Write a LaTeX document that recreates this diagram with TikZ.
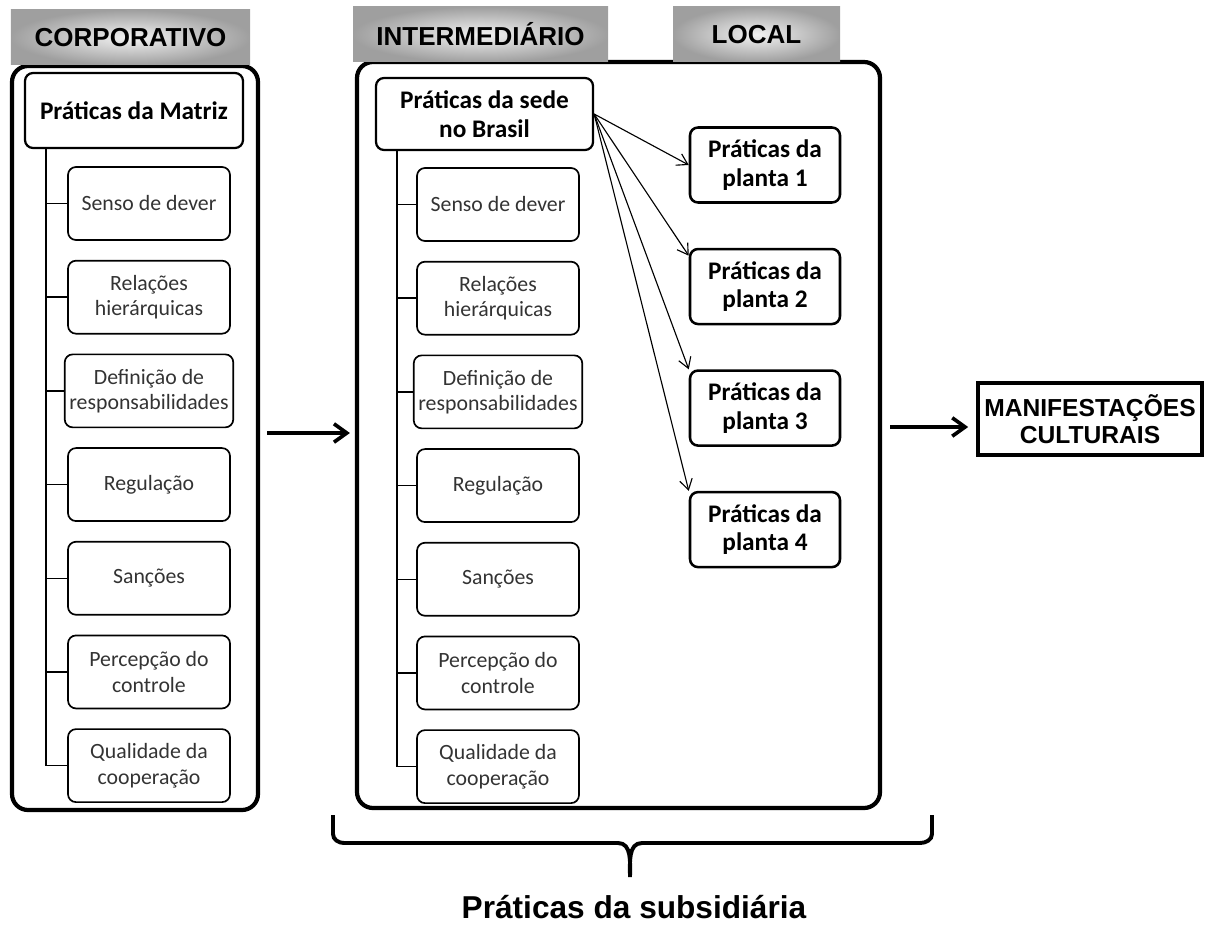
\documentclass[tikz,border=0pt]{standalone}
\usepackage{fontspec}
\usepackage{tikz}
\usetikzlibrary{shapes, arrows.meta, positioning}
\setmainfont{Carlito}
\newfontfamily\arialfont{Liberation Sans}

\begin{document}
\begin{tikzpicture}[node distance=0.475cm, auto]
    % Define styles
    \tikzstyle{level_head} = [rectangle, minimum height=1.375cm, shading=radial, inner color=gray!10, outer color=gray!75, font=\arialfont\fontsize{18.5}{21}\selectfont\bfseries]
    \tikzstyle{frame} = [draw, rectangle, rounded corners=0.4cm, line width=3pt]
    \tikzstyle{head} = [draw, rectangle, rounded corners=0.2cm, line width=1.6pt, fill=white, align=center, font=\fontsize{18}{20.5}\selectfont\bfseries]
    \tikzstyle{sub} = [draw, rectangle, rounded corners=0.2cm, line width=1.2pt, minimum width=4.05cm, minimum height=1.825cm, align=center, text=black!80, font=\fontsize{15.5}{18}\selectfont]
    \tikzstyle{planta} = [draw, rectangle, rounded corners=0.2cm, line width=1.8pt, minimum width=3.75cm, minimum height=1.875cm, align=center, font=\fontsize{18}{20.5}\selectfont\bfseries]
    \tikzstyle{result} = [draw, rectangle, line width=2.6pt, minimum width=5.6cm, minimum height=1.8cm, inner xsep=0pt, align=center, font=\arialfont\fontsize{17.5}{19.5}\selectfont\bfseries]
    \tikzstyle{rail} = [line width=1pt]
    \tikzstyle{planta_arrow} = [-{Straight Barb[length=2.6mm,width=3.2mm]}, line width=0.8pt]
    \tikzstyle{bigarrow} = [-{Straight Barb[length=3.2mm,width=4.6mm]}, line width=2.6pt]

    \useasboundingbox (0,0) rectangle (30.2,-23.325);

    % FRAMES
    \node (corp_frame) [frame, minimum width=6.15cm, minimum height=18.6cm] at (3.375,-10.95) {};
    \node (inter_frame) [frame, minimum width=13.075cm, minimum height=18.65cm] at (15.4625,-10.875) {};

    % LEVEL HEADERS
    \node (corp_head) [level_head, minimum width=5.975cm] at (3.2625,-0.9375) {CORPORATIVO};
    \node (inter_head) [level_head, minimum width=6.375cm] at (12.0125,-0.8625) {INTERMEDIÁRIO};
    \node (local_head) [level_head, minimum width=4.175cm] at (18.9125,-0.8625) {LOCAL};

    % CORPORATIVO
    \node (matriz) [head, minimum width=5.45cm, minimum height=1.875cm] at (3.35,-2.7625) {Práticas da Matriz};
    \node (m1) [sub] at (3.725,-5.0875) {Senso de dever};
    \node (m2) [sub, below=of m1] {Relações\\hierárquicas};
    \node (m3) [sub, below=of m2] {Definição de\\responsabilidades};
    \node (m4) [sub, below=of m3] {Regulação};
    \node (m5) [sub, below=of m4] {Sanções};
    \node (m6) [sub, below=of m5] {Percepção do\\controle};
    \node (m7) [sub, below=of m6] {Qualidade da\\cooperação};

    % INTERMEDIARIO
    \node (sede) [head, minimum width=5.425cm, minimum height=1.8cm] at (12.1125,-2.85) {Práticas da sede\\no Brasil};
    \node (s1) [sub] at (12.45,-5.1125) {Senso de dever};
    \node (s2) [sub, below=of s1] {Relações\\hierárquicas};
    \node (s3) [sub, below=of s2] {Definição de\\responsabilidades};
    \node (s4) [sub, below=of s3] {Regulação};
    \node (s5) [sub, below=of s4] {Sanções};
    \node (s6) [sub, below=of s5] {Percepção do\\controle};
    \node (s7) [sub, below=of s6] {Qualidade da\\cooperação};

    % LOCAL
    \node (planta1) [planta] at (19.125,-4.125) {Práticas da\\planta 1};
    \node (planta2) [planta, below=1.1cm of planta1] {Práticas da\\planta 2};
    \node (planta3) [planta, below=1.1cm of planta2] {Práticas da\\planta 3};
    \node (planta4) [planta, below=1.1cm of planta3] {Práticas da\\planta 4};

    % Final result
    \node (manif) [result] at (27.25,-10.475) {MANIFESTAÇÕES\\CULTURAIS};

    % CONNECTIONS
    \coordinate (m_rail) at ([xshift=-0.525cm]m1.west |- matriz.south);
    \draw[rail] (m_rail) |- (m7.west);
    \draw[rail] (m1.west) -- (m1.west -| m_rail);
    \draw[rail] (m2.west) -- (m2.west -| m_rail);
    \draw[rail] (m3.west) -- (m3.west -| m_rail);
    \draw[rail] (m4.west) -- (m4.west -| m_rail);
    \draw[rail] (m5.west) -- (m5.west -| m_rail);
    \draw[rail] (m6.west) -- (m6.west -| m_rail);

    \coordinate (s_rail) at ([xshift=-0.475cm]s1.west |- sede.south);
    \draw[rail] (s_rail) |- (s7.west);
    \draw[rail] (s1.west) -- (s1.west -| s_rail);
    \draw[rail] (s2.west) -- (s2.west -| s_rail);
    \draw[rail] (s3.west) -- (s3.west -| s_rail);
    \draw[rail] (s4.west) -- (s4.west -| s_rail);
    \draw[rail] (s5.west) -- (s5.west -| s_rail);
    \draw[rail] (s6.west) -- (s6.west -| s_rail);

    \draw[planta_arrow] (sede.east) -- (planta1.west);
    \draw[planta_arrow] (sede.east) -- (planta2.158);
    \draw[planta_arrow] (sede.east) -- (planta3.north west);
    \draw[planta_arrow] (sede.east) -- (planta4.north west);

    \draw[bigarrow, shorten <=0.175cm, shorten >=0.125cm] ([yshift=0.125cm]corp_frame.east) -- ([yshift=0.125cm]corp_frame.east -| inter_frame.west);
    \draw[bigarrow, shorten <=0.2cm, shorten >=0.2cm] ([yshift=-0.2cm]manif.west -| inter_frame.east) -- ([yshift=-0.2cm]manif.west);

    % Brace under the subsidiary
    \draw[line width=2.8pt] (8.325,-20.375) -- (8.325,-20.85) to[out=-90,in=180] (8.6,-21.075) -- (15.45,-21.075) to[out=0,in=90] (15.75,-21.925) to[out=90,in=180] (16.05,-21.075) -- (23.0,-21.075) to[out=0,in=-90] (23.3,-20.85) -- (23.3,-20.375);
    \node (subsid) [font=\arialfont\fontsize{22.5}{26}\selectfont\bfseries] at (15.85,-22.675) {Práticas da subsidiária};

\end{tikzpicture}
\end{document}
